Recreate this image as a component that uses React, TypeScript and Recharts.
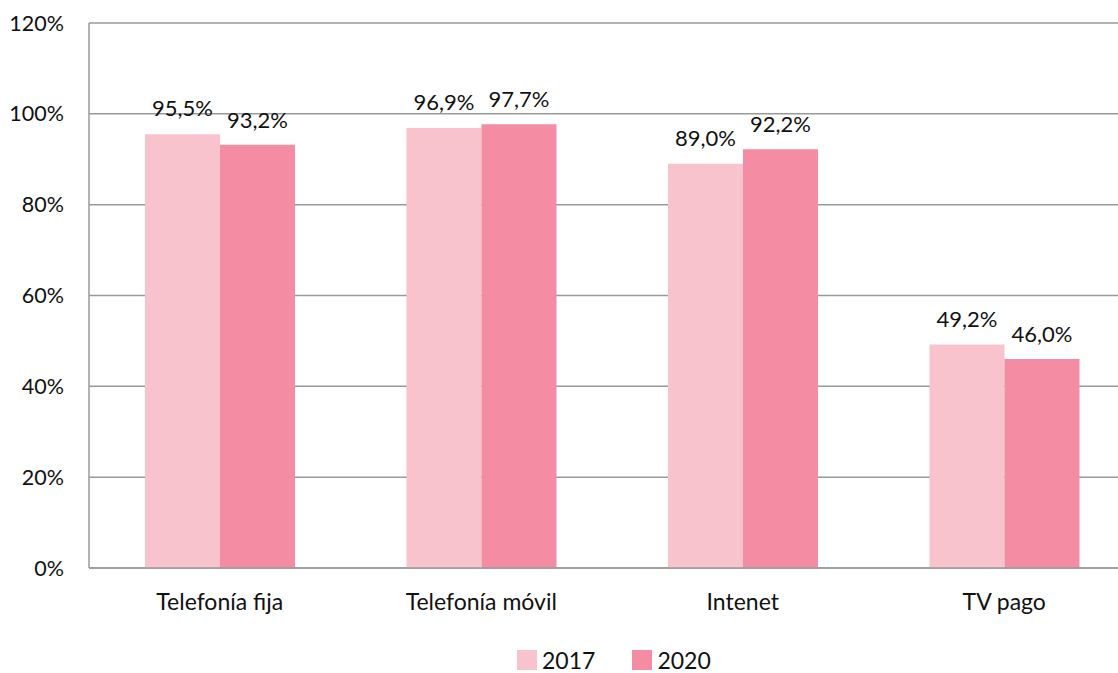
import React from 'react';
import { BarChart, Bar, XAxis, YAxis, CartesianGrid, LabelList } from 'recharts';

const categories = ['Telefonía fija', 'Telefonía móvil', 'Intenet', 'TV pago'];
const values2017 = [95.5, 96.9, 89.0, 49.2];
const values2020 = [93.2, 97.7, 92.2, 46.0];
const yTicks = [0, 20, 40, 60, 80, 100, 120];
const seriesNames = ['2017', '2020'];

const COLOR_2017 = '#F8C3CC';
const COLOR_2020 = '#F48CA3';
const FONT = 'Lato, "Open Sans", sans-serif';

const data = categories.map((name, i) => ({
  name,
  y2017: values2017[i],
  y2020: values2020[i],
}));

const fmt = (v: any) => `${Number(v).toFixed(1).replace('.', ',')}%`;

const LegendBox: React.FC = () => (
  <div
    style={{
      position: 'absolute',
      left: 517,
      top: 648,
      display: 'flex',
      alignItems: 'center',
      fontFamily: FONT,
      fontSize: 23,
      lineHeight: '24px',
      color: '#111',
    }}
  >
    {seriesNames.map((s, i) => (
      <div key={s} style={{ display: 'flex', alignItems: 'center', marginRight: i === 0 ? 37 : 0 }}>
        <div style={{ width: 20, height: 20, background: i === 0 ? COLOR_2017 : COLOR_2020, marginRight: 5 }} />
        <span>{s}</span>
      </div>
    ))}
  </div>
);

export default function App() {
  return (
    <div style={{ position: 'absolute', left: 0, top: 0, width: 1118, height: 673, background: '#fff' }}>
      <div style={{ position: 'absolute', left: 0, top: 0, width: 1118, height: 640, overflow: 'hidden' }}>
        <BarChart
          width={1135}
          height={640}
          data={data}
          margin={{ top: 23, right: 0, left: 0, bottom: 0 }}
          barGap={0}
          barSize={75}
        >
          <CartesianGrid vertical={false} stroke="#9a9a9a" strokeWidth={1.5} />
          <XAxis
            dataKey="name"
            height={72}
            tickLine={false}
            axisLine={{ stroke: '#9a9a9a', strokeWidth: 1.5 }}
            tickSize={8}
            tickMargin={18}
            tick={{ fill: '#111', fontSize: 23, fontFamily: FONT }}
          />
          <YAxis
            width={89}
            domain={[0, 120]}
            ticks={yTicks}
            interval={0}
            tickFormatter={(v) => `${v}%`}
            tickLine={false}
            axisLine={{ stroke: '#9a9a9a', strokeWidth: 1.5 }}
            tickSize={0}
            tickMargin={25}
            tick={{ fill: '#111', fontSize: 21.5, fontFamily: FONT }}
          />
          <Bar dataKey="y2017" fill={COLOR_2017} isAnimationActive={false}>
            <LabelList dataKey="y2017" position="top" offset={18} formatter={fmt} fill="#111" fontSize={22} fontFamily={FONT} />
          </Bar>
          <Bar dataKey="y2020" fill={COLOR_2020} isAnimationActive={false}>
            <LabelList dataKey="y2020" position="top" offset={17} formatter={fmt} fill="#111" fontSize={22} fontFamily={FONT} />
          </Bar>
        </BarChart>
      </div>
      <LegendBox />
    </div>
  );
}
